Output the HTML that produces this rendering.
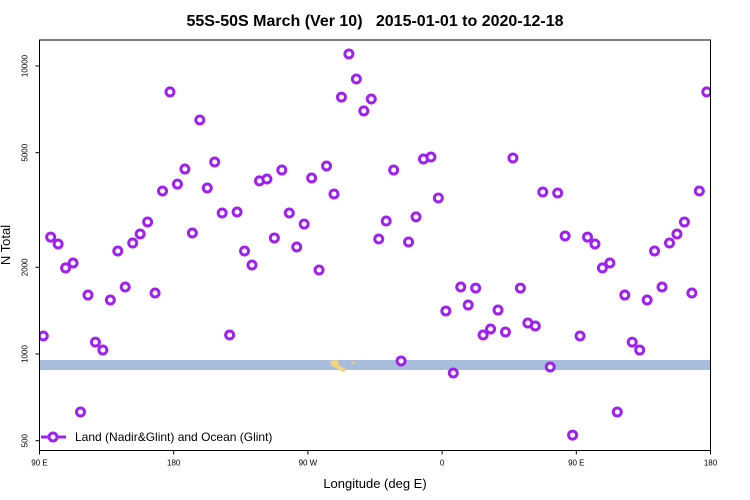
<!DOCTYPE html>
<html><head><meta charset="utf-8"><style>
html,body{margin:0;padding:0;background:#fff;}
svg{display:block;font-family:"Liberation Sans",sans-serif;}
</style></head><body>
<svg id="chart" width="750" height="500">
<defs><clipPath id="plotclip"><rect x="39.5" y="40" width="671" height="410.5"/></clipPath></defs>
<text x="375" y="26" text-anchor="middle" font-size="16" font-weight="bold" style="white-space:pre">55S-50S March (Ver 10)   2015-01-01 to 2020-12-18</text>
<rect x="39.5" y="360" width="671" height="10" fill="#a8bcdb"/>
<path d="M330,361 L337,360 L340,366 L347,370 L343,372 L336,368 L331,365 Z" fill="#f7d27a"/>
<rect x="351" y="362" width="4" height="1.5" fill="#f7d27a"/>
<g id="points" clip-path="url(#plotclip)"></g>
<g id="axes"></g>
<text x="375" y="488" text-anchor="middle" font-size="13">Longitude (deg E)</text>
<text transform="translate(10,245) rotate(-90)" text-anchor="middle" font-size="13">N Total</text>
<g>
<line x1="41" y1="437" x2="66" y2="437" stroke="#a020f0" stroke-width="3"/>
<circle cx="53" cy="437" r="4" fill="#fff" stroke="#a020f0" stroke-width="3"/>
<text x="75" y="441" font-size="12">Land (Nadir&amp;Glint) and Ocean (Glint)</text>
</g>
</svg>
<script>
const values = [1155,2547,2410,1990,2070,629,1602,1100,1032,1540,2278,1709,2428,2610,2872,1629,3681,8128,3890,4387,2631,6494,3770,4642,3088,1164,3112,2278,2037,3990,4053,2529,4352,3088,2353,2826,4085,1957,4496,3594,7800,11010,9014,6982,7680,2508,2895,4352,946,2448,2993,4754,4830,3482,1410,859,1709,1479,1694,1164,1221,1421,1192,4793,1694,1281,1251,3652,901,3623,2570,523];
const lonStart = 92.5;
const lonStep = 5;
const xTickVals = [90,180,270,360,450,540];
const xTickLabels = ["90 E","180","90 W","0","90 E","180"];
const yTickVals = [500,1000,2000,5000,10000];
const yTickLabels = ["500","1000","2000","5000","10000"];
const X0=39.5,X1=710.5,Y0=40,Y1=450.5;
const xs = l => X0 + (l-90)/450*(X1-X0);
const ys = v => 354 - (Math.log10(v)-3)*288;
const NS="http://www.w3.org/2000/svg";
function mk(t,a,p){const e=document.createElementNS(NS,t);for(const k in a)e.setAttribute(k,a[k]);p.appendChild(e);return e;}
const ax=document.getElementById('axes');
const frame=mk('rect',{x:X0,y:Y0,width:X1-X0,height:Y1-Y0,fill:'none',stroke:'#000','stroke-width':1},ax);


xTickVals.forEach((v,i)=>{const x=xs(v);
 const t=mk('line',{x1:x,y1:Y1,x2:x,y2:Y1+4,stroke:'#000'},ax);
 
 
 const lb=mk('text',{x:x,y:Y1+15,'font-size':8,'text-anchor':'middle'},ax);lb.textContent=xTickLabels[i];
 
 });
yTickVals.forEach((v,i)=>{const y=ys(v);
 const t=mk('line',{x1:X0-4,y1:y,x2:X0,y2:y,stroke:'#000'},ax);
 
 
 const lb=mk('text',{transform:`translate(${X0-12},${y}) rotate(-90)`,'font-size':8,'text-anchor':'middle'},ax);lb.textContent=yTickLabels[i];
 
 });
const pg=document.getElementById('points');
values.forEach((v,i)=>{[0,360].forEach(off=>{const l=lonStart+i*lonStep+off;
 if(l<90||l>540)return;
 const c=mk('circle',{cx:xs(l),cy:ys(v),r:4,fill:'#fff',stroke:'#a020f0','stroke-width':3},pg);
 
 });});
</script>
</body></html>
